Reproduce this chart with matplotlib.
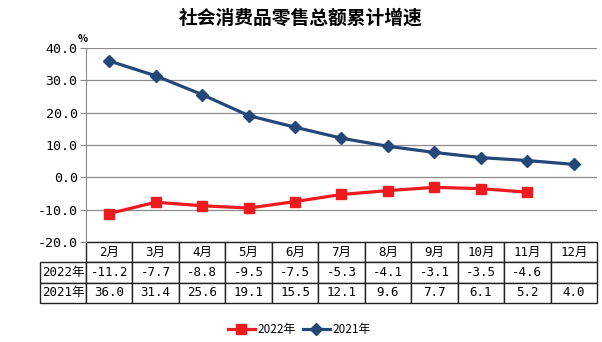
import matplotlib.pyplot as plt

plt.rcParams['font.family'] = ['DejaVu Sans Mono', 'Noto Sans CJK SC']

months = ["2月", "3月", "4月", "5月", "6月", "7月", "8月", "9月", "10月", "11月", "12月"]
y2022 = [-11.2, -7.7, -8.8, -9.5, -7.5, -5.3, -4.1, -3.1, -3.5, -4.6]
y2021 = [36.0, 31.4, 25.6, 19.1, 15.5, 12.1, 9.6, 7.7, 6.1, 5.2, 4.0]
yticks = [-20, -10, 0, 10, 20, 30, 40]

red = "#EE1A1F"
navy = "#24477A"
cjk = ['Noto Sans CJK SC', 'DejaVu Sans']

fig = plt.figure(figsize=(6.02, 3.42), dpi=100)
ax = fig.add_axes([86 / 602, 1 - 242 / 342, 511 / 602, 194 / 342])

x22 = range(len(y2022))
x21 = range(len(y2021))
ax.plot(x22, y2022, color=red, lw=2.3, marker="s", ms=7.5, label="2022年", zorder=3)
ax.plot(x21, y2021, color=navy, lw=2.3, marker="D", ms=6, label="2021年", zorder=3)

ax.set_xlim(-0.5, len(months) - 0.5)
ax.set_ylim(-20, 40)
ax.set_yticks(yticks)
ax.set_yticklabels([f"{v:.1f}" for v in yticks], fontsize=9.5)
ax.set_xticks([])
ax.grid(axis="y", color="#8c8c8c", lw=0.9)
for s in ["top", "right", "bottom"]:
    ax.spines[s].set_visible(False)
ax.spines["left"].set_color("#8c8c8c")
ax.tick_params(axis="y", length=4, color="#8c8c8c", pad=2)

ax.text(-0.006, 1.02, "%", transform=ax.transAxes, fontsize=7.5, fontweight="bold",
        ha="center", va="bottom", family=cjk)
fig.text(0.5, 1 - 18 / 342, "社会消费品零售总额累计增速", ha="center", va="center",
         fontsize=13.5, fontweight="bold", family=cjk)

# data table under the plot
cells = [[""] + months,
         ["2022年"] + [f"{v:.1f}" for v in y2022] + [""],
         ["2021年"] + [f"{v:.1f}" for v in y2021]]
lab_w = 46 / 511
col_w = 1 / len(months)
tab = ax.table(cellText=cells, cellLoc="center",
               colWidths=[lab_w] + [col_w] * len(months),
               bbox=[-lab_w, -61 / 194, 1 + lab_w, 61 / 194])
tab.auto_set_font_size(False)
tab.set_fontsize(9)
for (r, c), cell in tab.get_celld().items():
    cell.set_linewidth(1.0)
    cell.set_edgecolor("#222222")
    if r == 0 and c == 0:
        cell.visible_edges = ""

ax.legend(loc="center", bbox_to_anchor=(299 / 602, 1 - 330 / 342),
          bbox_transform=fig.transFigure, ncol=2, frameon=False,
          prop={'family': cjk, 'size': 8.5},
          handlelength=2.3, columnspacing=0.6, handletextpad=0.2)

fig.savefig("out.png", dpi=100)
